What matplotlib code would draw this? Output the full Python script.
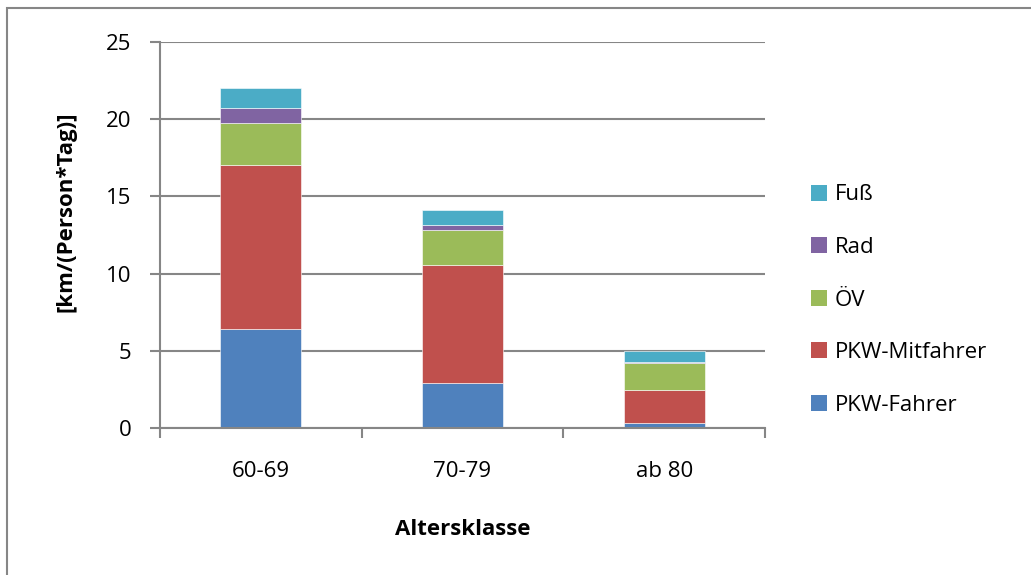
import numpy as np
import matplotlib.pyplot as plt
from matplotlib.patches import Rectangle, Patch

plt.rcParams['font.family'] = ['Open Sans', 'DejaVu Sans']

# km per person and day, by age group and mode
categories = ['60-69', '70-79', 'ab 80']
pkw_fahrer = [6.44, 2.94, 0.32]
pkw_mitfahrer = [10.6, 7.62, 2.16]
oev = [2.73, 2.25, 1.7]
rad = [0.97, 0.35, 0.1]
fuss = [1.28, 0.97, 0.68]

series = [
    ('PKW-Fahrer', pkw_fahrer, '#4f81bd'),
    ('PKW-Mitfahrer', pkw_mitfahrer, '#c0504d'),
    ('ÖV', oev, '#9bbb59'),
    ('Rad', rad, '#8064a2'),
    ('Fuß', fuss, '#4bacc6'),
]
y_ticks = [0, 5, 10, 15, 20, 25]

FS = 16
W, H = 1031, 575
fig = plt.figure(figsize=(W / 100, H / 100), dpi=100)
ax = fig.add_axes([160 / W, 1 - 428 / H, (765 - 160) / W, (428 - 42) / H])

grid_col = '#868686'
x = np.arange(len(categories))
bottom = np.zeros(len(categories))
for name, vals, col in series:
    ax.bar(x, vals, width=0.4, bottom=bottom, color=col, edgecolor='white',
           linewidth=0.4, zorder=3)
    bottom += np.array(vals)

ax.set_xlim(-0.5, len(categories) - 0.5)
ax.set_ylim(0, 25)
ax.set_yticks(y_ticks)
ax.set_xticks(x)
ax.set_xticklabels(categories)
ax.set_xticks(np.arange(len(categories) + 1) - 0.5, minor=True)
ax.tick_params(axis='x', which='major', length=0, pad=24, labelsize=FS)
ax.tick_params(axis='x', which='minor', length=7, width=1.5, color=grid_col,
               direction='out')
ax.tick_params(axis='y', length=7, width=1.5, color=grid_col, pad=13.5,
               labelsize=FS)
ax.grid(axis='y', color=grid_col, linewidth=1.5, zorder=0)

for side in ['top', 'right']:
    ax.spines[side].set_visible(False)
for side in ['left', 'bottom']:
    ax.spines[side].set_color(grid_col)
    ax.spines[side].set_linewidth(1.5)
    ax.spines[side].set_zorder(4)

ax.set_ylabel('[km/(Person*Tag)]', fontsize=FS, fontweight='bold')
ax.yaxis.set_label_coords(-(160 - 76) / (765 - 160), (428 - 212) / (428 - 42))
ax.set_xlabel('Altersklasse', fontsize=FS, fontweight='bold')
ax.xaxis.set_label_coords(0.5, -(519 - 428) / (428 - 42))

handles = [Patch(facecolor=col, label=name) for name, _, col in series][::-1]
fig.legend(handles=handles, loc='center left',
           bbox_to_anchor=(811 / W, 1 - 300 / H), frameon=False,
           fontsize=FS, handlelength=0.72, handleheight=0.72,
           handletextpad=0.35, labelspacing=1.42, borderpad=0, borderaxespad=0)

# outer chart frame
fig.patches.append(Rectangle((7 / W, -0.05), 1.1, 1 - 8 / H + 0.05,
                             transform=fig.transFigure, fill=False,
                             edgecolor='#868686', linewidth=1.5))

fig.savefig('out.png', dpi=100)
